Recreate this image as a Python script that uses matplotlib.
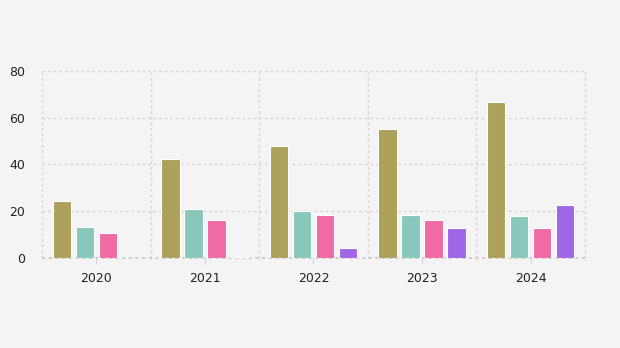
import matplotlib
matplotlib.use("Agg")
import matplotlib.pyplot as plt
import numpy as np

years = ["2020", "2021", "2022", "2023", "2024"]
series_a = [24.4, 42.4, 47.9, 55.2, 66.7]
series_b = [13.3, 21.0, 20.1, 18.4, 18.0]
series_c = [10.7, 16.3, 18.4, 16.3, 12.8]
series_d = [0.0, 0.5, 4.3, 12.8, 22.7]
colors = ["#ADA05A", "#88C8BA", "#F06BA3", "#A066E5"]

bg = "#F4F4F4"
fig = plt.figure(figsize=(6.2, 3.48), dpi=100, facecolor=bg)
ax = fig.add_axes([0.0677, 0.2586, 0.8758, 0.5374], facecolor=bg)

x = np.arange(len(years))
step = 0.212
width = 0.17
for i, (vals, col) in enumerate(zip([series_a, series_b, series_c, series_d], colors)):
    ax.bar(x + (i - 1.5) * step, vals, width=width, color=col,
           edgecolor="#FFFFFF", linewidth=0.8, zorder=3)

ax.set_xlim(-0.5, len(years) - 0.5)
ax.set_ylim(0, 80)
ax.set_yticks([0, 20, 40, 60, 80])
ax.set_xticks(x)
ax.set_xticklabels(years)

ax.grid(False)
for y in [20, 40, 60, 80]:
    ax.axhline(y, color="#D6D6D6", linestyle=(0, (2, 2)), linewidth=1, zorder=1, clip_on=False)
for xv in np.arange(-0.5, len(years), 1):
    ax.axvline(xv, color="#D6D6D6", linestyle=(0, (2, 2)), linewidth=1, zorder=1, clip_on=False)
ax.axhline(0, color="#C8C8C8", linestyle=(0, (2, 2)), linewidth=1.2, zorder=2, clip_on=False)

for s in ax.spines.values():
    s.set_visible(False)

ax.tick_params(axis="y", length=0, labelsize=9, colors="#222222", pad=12)
ax.tick_params(axis="x", which="major", length=4, color="#D6D6D6", labelsize=9,
               labelcolor="#222222", pad=6)

fig.savefig("out.png", dpi=100, facecolor=bg)
